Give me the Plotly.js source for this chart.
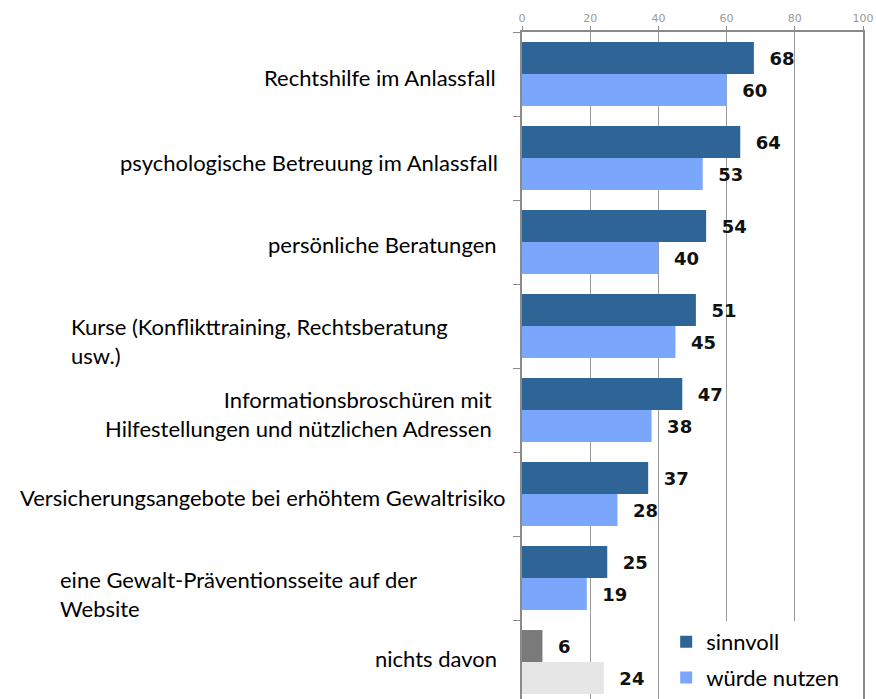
<!DOCTYPE html>
<html>
<head>
<meta charset="utf-8">
<script src="https://cdn.plot.ly/plotly-3.0.1.min.js"></script>
<style>html,body{margin:0;padding:0;background:#fff;}#chart{width:876px;height:699px;}</style>
</head>
<body>
<div id="chart"></div>
<script>
// ---- data ----
const categories = [
  "Rechtshilfe im Anlassfall",
  "psychologische Betreuung im Anlassfall",
  "persönliche Beratungen",
  "Kurse (Konflikttraining, Rechtsberatung<br>usw.)",
  "Informationsbroschüren mit<br>Hilfestellungen und nützlichen Adressen",
  "Versicherungsangebote bei erhöhtem Gewaltrisiko",
  "eine Gewalt-Präventionsseite auf der<br>Website",
  "nichts davon"
];
const sinnvoll = [68, 64, 54, 51, 47, 37, 25, 6];
const wuerdeNutzen = [60, 53, 40, 45, 38, 28, 19, 24];
const seriesNames = ["sinnvoll", "würde nutzen"];
const tickValues = [0, 20, 40, 60, 80, 100];
const tickLabels = ["0", "20", "40", "60", "80", "100"];

// ---- styling ----
const W = 876, H = 699;
const M = {l: 521.7, r: 13, t: 32, b: 0};
const DARK = "#2f6496", LIGHT = "#7aa6fb", GRAY_D = "#7a7a7a", GRAY_L = "#e6e6e6";
const isNone = (c) => c === "nichts davon";
const c1 = categories.map(c => isNone(c) ? GRAY_D : DARK);
const c2 = categories.map(c => isNone(c) ? GRAY_L : LIGHT);
const labelFont = {family: "Lato, 'Open Sans', sans-serif", size: 22, color: "#000"};
const valFont = {family: "'DejaVu Sans', Verdana, sans-serif", size: 18, color: "#111", weight: "bold"};
const NB = "\u00a0\u00a0";

const traces = [
  {type: "bar", orientation: "h", name: seriesNames[0], y: categories, x: sinnvoll,
   marker: {color: c1, line: {width: 0}}, text: sinnvoll.map(v => NB + v), textposition: "outside",
   textfont: valFont, constraintext: "none", cliponaxis: false, hoverinfo: "x+y", legendgroup: "a"},
  {type: "bar", orientation: "h", name: seriesNames[1], y: categories, x: wuerdeNutzen,
   marker: {color: c2, line: {width: 0}}, text: wuerdeNutzen.map(v => NB + v), textposition: "outside",
   textfont: valFont, constraintext: "none", cliponaxis: false, hoverinfo: "x+y", legendgroup: "b"}
];

// label placement: [anchor, pixel x, vertical pixel shift (down positive)]
const placement = [
  ["right", 498, 3], ["right", 500, 4], ["right", 499, 2], ["left", 68, 15],
  ["right", 494, 4], ["right", 508, 3], ["left", 57, 16], ["right", 499, -4]
];
const plotW = W - M.l - M.r;
const annotations = categories.map((c, i) => ({
  xref: "paper", yref: "y", x: (placement[i][1] - M.l) / plotW, y: c,
  xanchor: placement[i][0], yanchor: "middle", align: placement[i][0],
  yshift: -placement[i][2], text: c, showarrow: false, font: labelFont
}));

const layout = {
  width: W, height: H, margin: M, paper_bgcolor: "#fff", plot_bgcolor: "#fff",
  barmode: "group", bargap: 0.238, bargroupgap: 0,
  showlegend: true,
  legend: {x: (666 - M.l) / plotW, xanchor: "left", y: 0, yanchor: "bottom",
    bgcolor: "#fff", borderwidth: 0, font: {family: "Lato, sans-serif", size: 22, color: "#000"},
    traceorder: "grouped", tracegroupgap: 4, itemwidth: 30},
  xaxis: {side: "top", range: [0, 100], tickvals: tickValues, ticktext: tickLabels,
    showgrid: true, gridcolor: "#9a9a9a", gridwidth: 1, zeroline: false,
    showline: true, linecolor: "#8a8a8a", linewidth: 2, ticks: "outside", ticklen: 4,
    tickcolor: "#8a8a8a", tickfont: {family: "'DejaVu Sans', Verdana, sans-serif", size: 11, color: "#9a9a9a"},
    fixedrange: true},
  yaxis: {type: "category", range: [7.44, -0.5], showticklabels: false, showgrid: false,
    zeroline: false, showline: true, linecolor: "#8a8a8a", linewidth: 2, mirror: true,
    ticks: "outside", tickson: "boundaries", ticklen: 7, tickcolor: "#8a8a8a", fixedrange: true},
  annotations: annotations
};

Plotly.newPlot("chart", traces, layout, {displayModeBar: false, staticPlot: true});
</script>
</body>
</html>
